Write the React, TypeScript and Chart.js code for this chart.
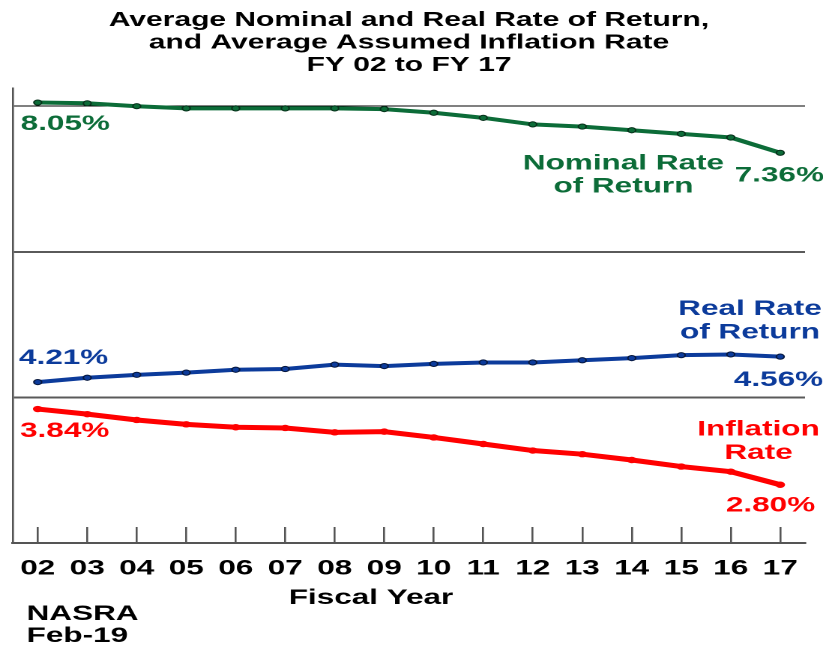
import React, { useEffect, useRef } from "react";
import { Chart, registerables } from "chart.js";

Chart.register(...registerables);

// ---------- data ----------
const fiscalYears = ["02", "03", "04", "05", "06", "07", "08", "09", "10", "11", "12", "13", "14", "15", "16", "17"];
const nominalRate = [8.05, 8.04, 8.0, 7.97, 7.97, 7.97, 7.97, 7.96, 7.91, 7.84, 7.75, 7.72, 7.67, 7.62, 7.57, 7.36];
const realRate = [4.21, 4.27, 4.31, 4.34, 4.38, 4.39, 4.45, 4.43, 4.46, 4.48, 4.48, 4.51, 4.54, 4.58, 4.59, 4.56];
const inflationRate = [3.84, 3.77, 3.69, 3.63, 3.59, 3.58, 3.52, 3.53, 3.45, 3.36, 3.27, 3.22, 3.14, 3.05, 2.98, 2.8];
const titleLines = ["Average Nominal and Real Rate of Return,", "and Average Assumed Inflation Rate", "FY 02 to FY 17"];
const gridValues = [4, 6, 8];
const xAxisTitle = "Fiscal Year";
const sourceLines = ["NASRA", "Feb-19"];

// ---------- style ----------
const GREEN = "#0c6c38";
const BLUE = "#0c3b9b";
const RED = "#ff0000";
const FONT = '"Liberation Sans", Arial, Helvetica, sans-serif';
const W = 823;
const H = 648;
const CW = 549; // drawn narrow, then stretched horizontally like the original
const SX = W / CW;

const pct = (v: number) => `${v.toFixed(2)}%`;

type Note = {
  lines: string[];
  color: string;
  values: number[];
  index: number;
  align: CanvasTextAlign;
  dx: number;
  dy: number;
};

const last = fiscalYears.length - 1;
const notes: Note[] = [
  { lines: [pct(nominalRate[0])], color: GREEN, values: nominalRate, index: 0, align: "left", dx: -11.4, dy: 27.4 },
  { lines: ["Nominal Rate", "of Return"], color: GREEN, values: nominalRate, index: last, align: "center", dx: -104.6, dy: 16.5 },
  { lines: [pct(nominalRate[last])], color: GREEN, values: nominalRate, index: last, align: "center", dx: -0.6, dy: 28.9 },
  { lines: [pct(realRate[0])], color: BLUE, values: realRate, index: 0, align: "left", dx: -12.5, dy: -18.1 },
  { lines: ["Real Rate", "of Return"], color: BLUE, values: realRate, index: last, align: "center", dx: -20.2, dy: -41.6 },
  { lines: [pct(realRate[last])], color: BLUE, values: realRate, index: last, align: "center", dx: -1.2, dy: 29.4 },
  { lines: [pct(inflationRate[0])], color: RED, values: inflationRate, index: 0, align: "left", dx: -11.8, dy: 28 },
  { lines: ["Inflation", "Rate"], color: RED, values: inflationRate, index: last, align: "center", dx: -14.5, dy: -49.1 },
  { lines: [pct(inflationRate[last])], color: RED, values: inflationRate, index: last, align: "center", dx: -6.5, dy: 26.9 },
];

const notesPlugin = {
  id: "notes",
  afterDraw(chart: any) {
    const { ctx, chartArea } = chart;
    const x = chart.scales.x;
    const y = chart.scales.y;
    ctx.save();
    ctx.textBaseline = "alphabetic";
    ctx.font = `bold 21px ${FONT}`;
    for (const n of notes) {
      ctx.fillStyle = n.color;
      ctx.textAlign = n.align;
      const px = x.getPixelForValue(n.index);
      const py = y.getPixelForValue(n.values[n.index]);
      n.lines.forEach((line, i) => ctx.fillText(line, px + n.dx, py + n.dy + i * 23.4));
    }
    ctx.fillStyle = "#000";
    ctx.textAlign = "center";
    ctx.fillText(xAxisTitle, chartArea.left + 238.8, chartArea.bottom + 61);
    ctx.textAlign = "left";
    sourceLines.forEach((line, i) => ctx.fillText(line, chartArea.left + 9.1, chartArea.bottom + 77 + i * 22));
    ctx.restore();
  },
};

export default function App() {
  const ref = useRef<HTMLCanvasElement | null>(null);

  useEffect(() => {
    const canvas = ref.current;
    if (!canvas) return;
    const marker = (color: string, border: string, r: number, bw: number) => ({
      pointRadius: r,
      pointHoverRadius: r,
      pointBackgroundColor: color,
      pointBorderColor: border,
      pointBorderWidth: bw,
    });
    const chart = new Chart(canvas, {
      type: "line",
      data: {
        labels: fiscalYears,
        datasets: [
          { label: "Nominal Rate of Return", data: nominalRate, borderColor: GREEN, backgroundColor: GREEN, borderWidth: 4, tension: 0, ...marker(GREEN, "#06301a", 2.6, 1) },
          { label: "Real Rate of Return", data: realRate, borderColor: BLUE, backgroundColor: BLUE, borderWidth: 4, tension: 0, ...marker(BLUE, "#06173d", 2.6, 1) },
          { label: "Inflation Rate", data: inflationRate, borderColor: RED, backgroundColor: RED, borderWidth: 5, tension: 0, ...marker(RED, RED, 3.2, 0) },
        ],
      },
      options: {
        animation: false,
        responsive: false,
        devicePixelRatio: 2,
        events: [],
        layout: { padding: { left: 8.67, right: 12, top: 0, bottom: 37.6 } },
        plugins: {
          legend: { display: false },
          tooltip: { enabled: false },
          title: {
            display: true,
            text: titleLines,
            color: "#000",
            font: { family: FONT, size: 20, weight: "bold", lineHeight: 1.125 },
            padding: { top: 9, bottom: 11.5 },
          },
        },
        scales: {
          x: {
            type: "category",
            offset: true,
            grid: { display: true, drawOnChartArea: false, drawTicks: true, tickLength: -16, color: "#555", lineWidth: 1.3 },
            border: { display: true, color: "#555", width: 2 },
            ticks: {
              color: "#000",
              padding: 0,
              maxRotation: 0,
              autoSkip: false,
              font: { family: FONT, size: 21, weight: "bold", lineHeight: 83.4 / 21 },
            },
          },
          y: {
            min: 2,
            max: 8.25,
            ticks: { display: false, stepSize: 2 },
            grid: {
              drawTicks: false,
              color: (c: any) => {
                const v = c.tick && c.tick.value;
                if (!gridValues.includes(v)) return "rgba(0,0,0,0)";
                return v === 8 ? "#000" : "#5a5a5a";
              },
              lineWidth: (c: any) => (c.tick && c.tick.value === 8 ? 1 : 2),
            },
            border: { display: true, color: "#555", width: 1.3 },
          },
        },
      },
      plugins: [notesPlugin],
    } as any);
    return () => chart.destroy();
  }, []);

  return (
    <div style={{ position: "absolute", left: 0, top: 0, width: W, height: H, overflow: "hidden", background: "#fff" }}>
      <div style={{ width: CW, height: H, transform: `scaleX(${SX})`, transformOrigin: "0 0" }}>
        <canvas ref={ref} width={CW} height={H} style={{ display: "block", width: CW, height: H }} />
      </div>
    </div>
  );
}
